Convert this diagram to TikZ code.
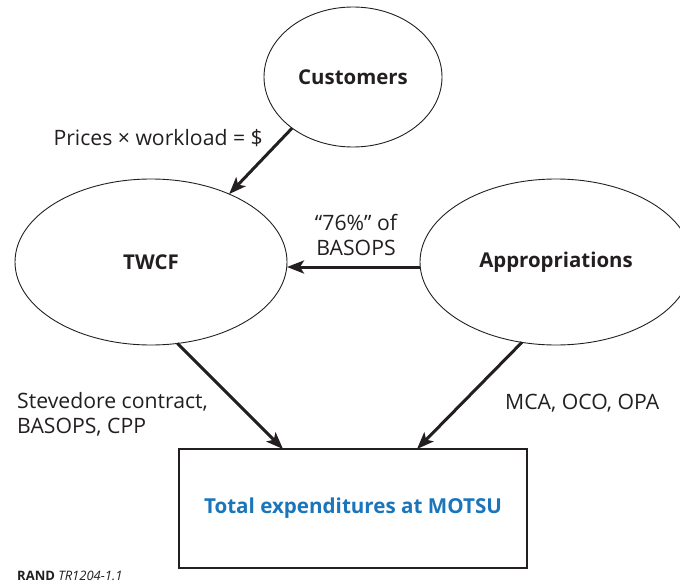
\documentclass[tikz,border=0pt]{standalone}
\usepackage{fontspec}
\setmainfont{Open Sans}
\usetikzlibrary{shapes.geometric,arrows.meta}
\definecolor{ink}{HTML}{231F20}
\definecolor{randblue}{HTML}{1A75BB}
\begin{document}
\begin{tikzpicture}[x=1pt,y=-1pt,
  every node/.style={text=ink},
  txt/.style={inner sep=0pt, font=\fontsize{21.2}{25}\selectfont},
  oval/.style={ellipse, draw=ink, line width=0.9pt, inner sep=0pt, outer sep=0pt,
    font=\fontsize{20.4}{25}\selectfont\bfseries},
  sink/.style={rectangle, draw=ink, line width=1.3pt, inner sep=0pt, outer sep=0pt,
    minimum width=348pt, minimum height=119pt,
    text=randblue, font=\fontsize{20.6}{25}\selectfont\bfseries},
  flow/.style={draw=ink, line width=3pt, -{Stealth[length=17pt,width=13pt,inset=4pt]}}]
\useasboundingbox (0,0) rectangle (680,586);
\clip (0,0) rectangle (680,586);

\node[oval, minimum width=178pt, minimum height=140pt] (cust) at (353,77) {Customers};
\node[oval, minimum width=272pt, minimum height=166pt] (twcf) at (151,262) {TWCF};
\node[oval, minimum width=272pt, minimum height=166pt] (appr) at (556,262) {Appropriations};
\node[sink] (total) at (353,508.5) {Total expenditures at MOTSU};

\draw[flow] (cust.220) -- (twcf.41);
\draw[flow] ([yshift=-5pt]appr.west) -- ([yshift=-5pt]twcf.east);
\draw[flow] (twcf.-72) -- ([xshift=-70pt]total.north);
\draw[flow] (appr.247.7) -- ([xshift=64pt]total.north);

\node[txt, anchor=base east] (lprice) at (263,145) {Prices × workload = \$};
\node[txt, align=center] (lbasops) at (356,235) {“76\%” of\\BASOPS};
\node[txt, align=left, anchor=west] (lstev) at (17,414) {Stevedore contract,\\BASOPS, CPP};
\node[txt, anchor=base west] (lmca) at (505,409) {MCA, OCO, OPA};
\node[inner sep=0pt, anchor=base west, font=\fontsize{13}{15}\selectfont] (rand) at (17,580)
  {\textbf{RAND} \textit{TR1204-1.1}};
\end{tikzpicture}
\end{document}
